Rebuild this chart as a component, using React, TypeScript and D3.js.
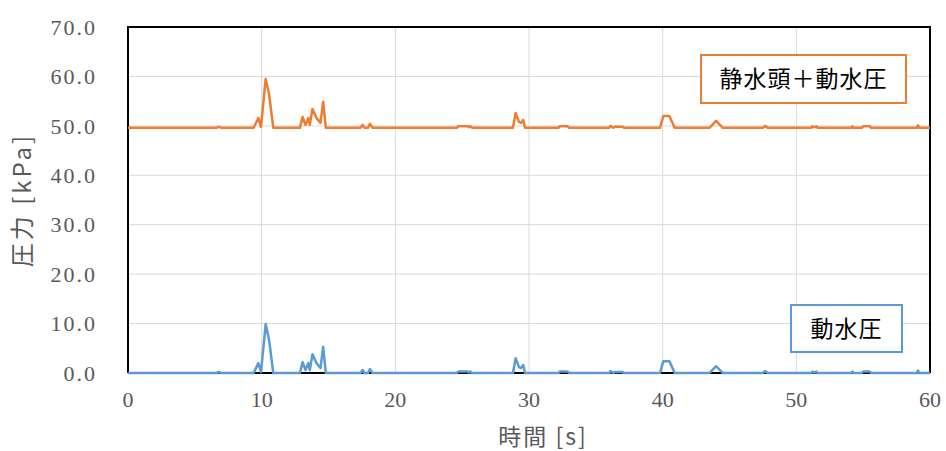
import React from "react";
import * as d3 from "d3";

const timeS: number[] = [
  0, 6.6, 6.8, 7.0, 9.4, 9.75, 9.95, 10.3, 10.55, 10.87,
  12.86, 13.06, 13.28, 13.49, 13.6, 13.8, 14.1, 14.4, 14.6, 14.8,
  17.4, 17.55, 17.7, 17.95, 18.1, 18.3,
  24.6, 24.7, 25.4, 25.5, 25.6, 25.75,
  28.8, 29.0, 29.25, 29.4, 29.57, 29.7,
  32.2, 32.3, 32.9, 33.0,
  36.0, 36.1, 36.3, 36.4, 37.0, 37.1,
  39.8, 40.05, 40.5, 40.9,
  43.5, 44.0, 44.5,
  47.5, 47.65, 47.85,
  51.1, 51.2, 51.35, 51.5, 51.6,
  54.1, 54.2, 54.3, 54.9, 55.0, 55.5, 55.6,
  59.0, 59.1, 59.2, 60,
];

const dynamicKPa: number[] = [
  0, 0, 0.2, 0, 0, 2.0, 0.2, 9.9, 6.8, 0,
  0, 2.2, 0.6, 2.0, 0.6, 3.8, 2.0, 1.0, 5.3, 0,
  0, 0.6, 0, 0, 0.8, 0,
  0, 0.3, 0.3, 0.1, 0.3, 0,
  0, 3.0, 1.2, 1.0, 1.6, 0,
  0, 0.3, 0.3, 0,
  0, 0.4, 0, 0.2, 0.2, 0,
  0, 2.4, 2.4, 0,
  0, 1.4, 0,
  0, 0.4, 0,
  0, 0.3, 0.1, 0.3, 0,
  0, 0.3, 0, 0, 0.3, 0.3, 0,
  0, 0.5, 0, 0,
];

const totalKPa: number[] = [
  49.6, 49.6, 49.8, 49.6, 49.6, 51.6, 49.8, 59.5, 56.5, 49.6,
  49.6, 51.8, 50.2, 51.6, 50.2, 53.4, 51.6, 50.6, 54.9, 49.6,
  49.6, 50.2, 49.6, 49.6, 50.4, 49.6,
  49.6, 49.9, 49.9, 49.7, 49.9, 49.6,
  49.6, 52.6, 50.8, 50.6, 51.2, 49.6,
  49.6, 49.9, 49.9, 49.6,
  49.6, 50.0, 49.6, 49.8, 49.8, 49.6,
  49.6, 52.0, 52.0, 49.6,
  49.6, 51.0, 49.6,
  49.6, 50.0, 49.6,
  49.6, 49.9, 49.7, 49.9, 49.6,
  49.6, 49.9, 49.6, 49.6, 49.9, 49.9, 49.6,
  49.6, 50.1, 49.6, 49.6,
];

const xTicks: number[] = [0, 10, 20, 30, 40, 50, 60];
const yTicks: number[] = [0, 10, 20, 30, 40, 50, 60, 70];
const xTitle = "時間 [s]";
const yTitle = "圧力 [kPa]";
const legendTotal = "静水頭＋動水圧";
const legendDynamic = "動水圧";

const W = 946;
const H = 451;
const L = 128, R = 930, T = 27, B = 373;

export default function App() {
  const x = d3.scaleLinear().domain([0, 60]).range([L, R]);
  const y = d3.scaleLinear().domain([0, 70]).range([B, T]);
  const line = d3
    .line<[number, number]>()
    .x((d) => x(d[0]))
    .y((d) => y(d[1]));
  const blue = line(timeS.map((t, i) => [t, dynamicKPa[i]] as [number, number])) || "";
  const orange = line(timeS.map((t, i) => [t, totalKPa[i]] as [number, number])) || "";
  const cjk = "'Noto Sans CJK JP', sans-serif";
  const serif = "'Liberation Serif', serif";
  return (
    <svg
      width={W}
      height={H}
      style={{ position: "absolute", left: 0, top: 0, background: "#fff" }}
    >
      <rect x={0} y={0} width={W} height={H} fill="#fff" />
      {yTicks.map((v) => (
        <line key={"gy" + v} x1={L} x2={R} y1={y(v)} y2={y(v)} stroke="#d9d9d9" strokeWidth={1} />
      ))}
      {xTicks.map((v) => (
        <line key={"gx" + v} x1={x(v)} x2={x(v)} y1={T} y2={B} stroke="#d9d9d9" strokeWidth={1} />
      ))}
      <path d={`M${L},${B}V${T}H${R}V${B}`} fill="none" stroke="#000" strokeWidth={2} />
      <line x1={L} x2={R} y1={B} y2={B} stroke="#000" strokeWidth={2} />
      <path d={orange} fill="none" stroke="#ed7d31" strokeWidth={2.5} strokeLinejoin="round" />
      <path d={blue} fill="none" stroke="#5b9bd5" strokeWidth={2.5} strokeLinejoin="round" />
      {yTicks.map((v) => (
        <text
          key={"ty" + v}
          x={97}
          y={y(v)}
          dy="0.35em"
          textAnchor="end"
          fontFamily={serif}
          fontSize={22}
          letterSpacing={2}
          fill="#595959"
        >
          {v.toFixed(1)}
        </text>
      ))}
      {xTicks.map((v) => (
        <text
          key={"tx" + v}
          x={x(v)}
          y={399}
          dy="0.35em"
          textAnchor="middle"
          fontFamily={serif}
          fontSize={22}
          fill="#595959"
        >
          {v}
        </text>
      ))}
      <text
        x={543}
        y={437}
        dy="0.35em"
        textAnchor="middle"
        fontFamily={cjk}
        fontSize={23}
        letterSpacing={2}
        fill="#595959"
      >
        {xTitle}
      </text>
      <text
        transform={`translate(23,200) rotate(-90)`}
        dy="0.35em"
        textAnchor="middle"
        fontFamily={cjk}
        fontSize={24}
        letterSpacing={3}
        fill="#595959"
      >
        {yTitle}
      </text>
      <rect x={701} y={55} width={205} height={48} fill="#fff" stroke="#ed7d31" strokeWidth={2} />
      <text
        x={803.5}
        y={79}
        dy="0.35em"
        textAnchor="middle"
        fontFamily={cjk}
        fontSize={23}
        letterSpacing={1}
        fill="#000"
      >
        {legendTotal}
      </text>
      <rect x={791} y={305} width={111} height={47} fill="#fff" stroke="#5b9bd5" strokeWidth={2} />
      <text
        x={846.5}
        y={328.5}
        dy="0.35em"
        textAnchor="middle"
        fontFamily={cjk}
        fontSize={23}
        letterSpacing={1}
        fill="#000"
      >
        {legendDynamic}
      </text>
    </svg>
  );
}
